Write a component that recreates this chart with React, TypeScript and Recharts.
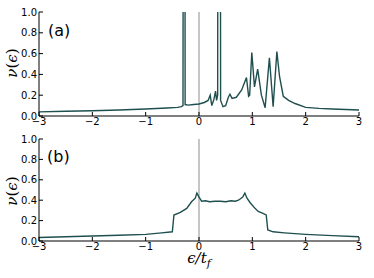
import React from 'react';
import { LineChart, Line, XAxis, YAxis, ReferenceLine } from 'recharts';

const aEnergy = [-3, -2.5, -2, -1.5, -1, -0.6, -0.4, -0.33, -0.3, -0.295, -0.265, -0.26, -0.2, -0.1, 0, 0.1, 0.17, 0.21, 0.24, 0.28, 0.31, 0.33, 0.35, 0.355, 0.4, 0.405, 0.45, 0.5, 0.55, 0.58, 0.62, 0.7, 0.8, 0.89, 0.93, 0.95, 0.99, 1.04, 1.1, 1.17, 1.24, 1.32, 1.39, 1.46, 1.51, 1.58, 1.68, 1.8, 2.0, 2.25, 2.5, 2.75, 3.0];
const aDos = [0.04, 0.045, 0.05, 0.057, 0.067, 0.077, 0.083, 0.09, 0.1, 3, 3, 0.11, 0.105, 0.11, 0.115, 0.13, 0.15, 0.2, 0.1, 0.16, 0.24, 0.15, 0.2, 3, 3, 0.15, 0.09, 0.1, 0.18, 0.21, 0.17, 0.18, 0.25, 0.37, 0.19, 0.2, 0.61, 0.28, 0.45, 0.2, 0.08, 0.56, 0.09, 0.62, 0.38, 0.19, 0.15, 0.12, 0.083, 0.073, 0.067, 0.062, 0.058];

const bEnergy = [-3, -2.5, -2, -1.5, -1, -0.7, -0.5, -0.47, -0.35, -0.23, -0.14, -0.07, -0.04, 0.0, 0.05, 0.12, 0.2, 0.3, 0.4, 0.5, 0.6, 0.68, 0.74, 0.82, 0.86, 0.9, 0.96, 1.05, 1.11, 1.2, 1.26, 1.29, 1.39, 1.6, 1.8, 2.0, 2.5, 3.0];
const bDos = [0.035, 0.042, 0.049, 0.057, 0.065, 0.08, 0.09, 0.255, 0.28, 0.32, 0.385, 0.42, 0.47, 0.43, 0.39, 0.395, 0.385, 0.39, 0.39, 0.385, 0.395, 0.39, 0.4, 0.43, 0.47, 0.42, 0.375, 0.32, 0.29, 0.27, 0.255, 0.108, 0.09, 0.08, 0.072, 0.065, 0.053, 0.042];

const xTicks = [-3, -2, -1, 0, 1, 2, 3];
const yTicks = [0, 0.2, 0.4, 0.6, 0.8, 1.0];

const aData = aEnergy.map((e, i) => ({ e, nu: aDos[i] }));
const bData = bEnergy.map((e, i) => ({ e, nu: bDos[i] }));

const fmtX = (v: number) => (v < 0 ? '\u2212' + Math.abs(v) : String(v));
const fmtY = (v: number) => v.toFixed(1);

const tickStyle = { fontSize: 10, fill: '#000', fontFamily: 'DejaVu Sans' };

function Panel({ data, height, top, xAxisHeight }: { data: any[]; height: number; top: number; xAxisHeight: number }) {
  return (
    <LineChart width={374} height={height} data={data} margin={{ top, right: 15, bottom: 0, left: 0 }}>
      <XAxis dataKey="e" type="number" domain={[-3, 3]} ticks={xTicks} tickFormatter={fmtX}
        height={xAxisHeight} tick={tickStyle} tickSize={-4} tickMargin={6}
        stroke="#000" axisLine={{ stroke: '#000' }} tickLine={{ stroke: '#000' }} interval={0} />
      <XAxis xAxisId="t" orientation="top" dataKey="e" type="number" domain={[-3, 3]} ticks={xTicks}
        height={0} tick={{ fill: 'none', fontSize: 1 }} tickSize={-4} tickMargin={0}
        axisLine={{ stroke: '#000' }} tickLine={{ stroke: '#000' }} interval={0} />
      <YAxis type="number" domain={[0, 1]} ticks={yTicks} allowDataOverflow tickFormatter={fmtY}
        width={39} tick={tickStyle} tickSize={-4} tickMargin={6}
        axisLine={{ stroke: '#000' }} tickLine={{ stroke: '#000' }} interval={0} />
      <YAxis yAxisId="r" orientation="right" type="number" domain={[0, 1]} ticks={yTicks}
        width={0} tick={{ fill: 'none', fontSize: 1 }} tickSize={-4} tickMargin={0}
        axisLine={{ stroke: '#000' }} tickLine={{ stroke: '#000' }} interval={0} />
      <ReferenceLine x={0} stroke="#a0a0a0" strokeWidth={1.2} />
      <Line dataKey="nu" type="linear" dot={false} stroke="#1f4f4f" strokeWidth={1.4} isAnimationActive={false} />
    </LineChart>
  );
}

export default function App() {
  return (
    <div style={{ position: 'absolute', left: 0, top: 0, width: 374, height: 278, background: '#fff' }}>
      <div style={{ position: 'absolute', left: 0, top: 0 }}>
        <Panel data={aData} height={130} top={12} xAxisHeight={14} />
      </div>
      <div style={{ position: 'absolute', left: 0, top: 130 }}>
        <Panel data={bData} height={148} top={9} xAxisHeight={37} />
      </div>
      <svg width={374} height={278} style={{ position: 'absolute', left: 0, top: 0, pointerEvents: 'none' }}>
        <text x={48} y={36} fontSize={16} fontFamily="DejaVu Sans" fill="#000">(a)</text>
        <text x={47} y={162} fontSize={16} fontFamily="DejaVu Sans" fill="#000">(b)</text>
        <text transform="translate(17,63) rotate(-90)" textAnchor="middle" fontSize={15} fontFamily="DejaVu Serif" fill="#000">
          <tspan fontStyle="italic">ν</tspan>(<tspan fontStyle="italic">ϵ</tspan>)
        </text>
        <text transform="translate(17,191) rotate(-90)" textAnchor="middle" fontSize={15} fontFamily="DejaVu Serif" fill="#000">
          <tspan fontStyle="italic">ν</tspan>(<tspan fontStyle="italic">ϵ</tspan>)
        </text>
        <text x={199} y={263} textAnchor="middle" fontSize={15} fontFamily="DejaVu Serif" fontStyle="italic" fill="#000">
          ϵ/t<tspan fontSize={11} dy={4}>f</tspan>
        </text>
      </svg>
    </div>
  );
}
